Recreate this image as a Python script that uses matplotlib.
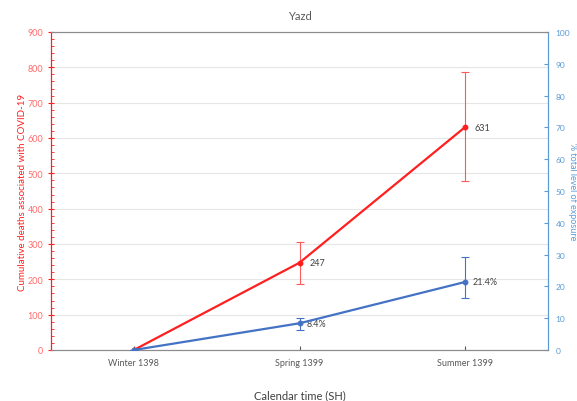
import matplotlib
matplotlib.use("Agg")
import matplotlib.pyplot as plt
from matplotlib.ticker import MultipleLocator

plt.rcParams['font.family'] = ['Lato', 'DejaVu Sans']

seasons = ['Winter 1398', 'Spring 1399', 'Summer 1399']
deaths = [0, 247, 631]
deaths_low = [0, 186, 478]
deaths_high = [0, 307, 787]
exposure = [0, 8.4, 21.4]
exposure_low = [0, 6.3, 16.4]
exposure_high = [0, 10.2, 29.4]
death_labels = ['', '247', '631']
exposure_labels = ['', '8.4%', '21.4%']

red = '#ff1f1f'
blue = '#4472c4'
lblue = '#5b9bd5'
gray = '#595959'

fig = plt.figure(figsize=(5.77, 4.02), dpi=100)
ax = fig.add_axes([51/577, 51/402, 497/577, 318/402])
ax2 = ax.twinx()

x = list(range(len(seasons)))

# red series (left axis)
err_d = [[d - lo for d, lo in zip(deaths, deaths_low)],
         [hi - d for d, hi in zip(deaths, deaths_high)]]
ax.errorbar(x, deaths, yerr=err_d, fmt='none', ecolor='#ff5a5a', elinewidth=0.8, capsize=3, capthick=0.8, zorder=3)
ax.plot(x, deaths, color=red, lw=1.6, marker='o', ms=3.2, zorder=4)
for xi, yi, lab in zip(x, deaths, death_labels):
    if lab:
        ax.annotate(lab, (xi, yi), xytext=(7, 0), textcoords='offset points', va='center', ha='left', fontsize=6.5, color='#404040')

# blue series (right axis)
err_e = [[e - lo for e, lo in zip(exposure, exposure_low)],
         [hi - e for e, hi in zip(exposure, exposure_high)]]
ax2.errorbar(x, exposure, yerr=err_e, fmt='none', ecolor=blue, elinewidth=0.8, capsize=3, capthick=0.8, zorder=3)
ax2.plot(x, exposure, color=blue, lw=1.6, marker='o', ms=3.2, zorder=4)
for xi, yi, lab in zip(x, exposure, exposure_labels):
    if lab:
        ax2.annotate(lab, (xi, yi), xytext=(5, 0), textcoords='offset points', va='center', ha='left', fontsize=6.5, color='#404040')

ax.set_xlim(-0.5, 2.5)
ax.set_ylim(0, 900)
ax2.set_ylim(0, 100)
ax.set_xticks(x)
ax.set_xticklabels(seasons, fontsize=6.5, color=gray)
ax.tick_params(axis='x', direction='in', length=3, color=gray, pad=6)

ax.yaxis.set_major_locator(MultipleLocator(100))
ax.yaxis.set_minor_locator(MultipleLocator(20))
ax.tick_params(axis='y', which='major', direction='inout', length=4, colors=red, labelsize=6.5, labelcolor='#ff6b6b')
ax.tick_params(axis='y', which='minor', direction='in', length=2, color=red)
ax.grid(axis='y', color='#e6e6e6', lw=0.8)
ax.set_axisbelow(True)

ax2.yaxis.set_major_locator(MultipleLocator(10))
ax2.tick_params(axis='y', direction='in', length=3, colors=lblue, labelsize=6, pad=5.5)

for a in (ax, ax2):
    a.spines['top'].set_color('#8c8c8c')
    a.spines['bottom'].set_color('#8c8c8c')
    a.spines['left'].set_color(red)
    a.spines['right'].set_color(lblue)

ax.set_title('Yazd', fontsize=8, color=gray, pad=9)
ax.set_xlabel('Calendar time (SH)', fontsize=8, color='#404040', labelpad=16)
ax.set_ylabel('Cumulative deaths associated with COVID-19', fontsize=7, color=red, va='center')
ax.yaxis.set_label_coords(-0.058, 0.5)
ax2.set_ylabel('% total level of exposure', fontsize=6.5, color=lblue, rotation=270, va='center')
ax2.yaxis.set_label_coords(1.0485, 0.5)

fig.savefig('out.png', dpi=100)
